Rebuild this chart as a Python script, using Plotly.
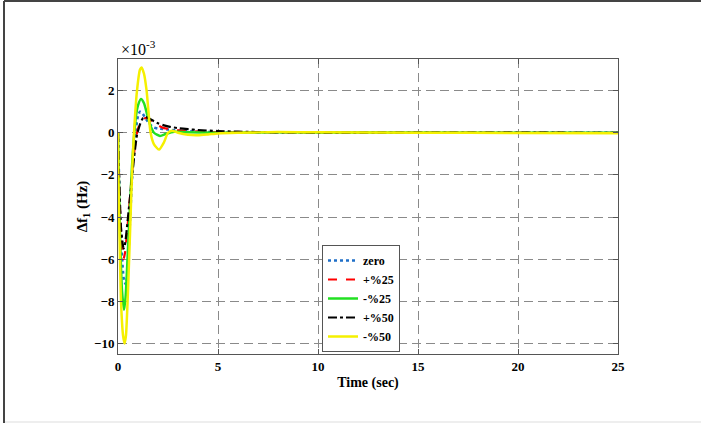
import plotly.graph_objects as go

# Values of delta f1 in units of 1e-3 Hz
t_zero = [0, 0.05, 0.15, 0.3, 0.4, 0.5, 0.6, 0.7, 0.8, 0.9, 1.0, 1.1, 1.2, 1.4, 1.6, 1.8, 2.0, 2.5, 3.0, 4.0, 5.0, 8.0, 12.0, 25.0]
v_zero = [0, -2.0, -5.0, -7.0, -7.2, -6.2, -4.2, -2.2, -0.8, 0.2, 0.8, 1.0, 0.95, 0.65, 0.4, 0.25, 0.2, 0.15, 0.1, 0.05, 0.02, 0.02, 0.01, 0.0]

t_p25 = [0, 0.05, 0.15, 0.27, 0.35, 0.5, 0.65, 0.8, 0.95, 1.1, 1.25, 1.38, 1.6, 1.8, 2.0, 2.3, 2.6, 3.0, 4.0, 5.0, 8.0, 12.0, 25.0]
v_p25 = [0, -2.0, -4.8, -6.0, -5.7, -4.2, -2.5, -1.0, 0.0, 0.45, 0.65, 0.7, 0.6, 0.45, 0.35, 0.22, 0.18, 0.12, 0.06, 0.03, 0.02, 0.01, 0.0]

t_m25 = [0, 0.05, 0.12, 0.2, 0.3, 0.38, 0.5, 0.6, 0.7, 0.8, 0.9, 1.0, 1.15, 1.3, 1.45, 1.6, 1.8, 2.1, 2.4, 2.8, 3.5, 5.0, 8.0, 12.0, 25.0]
v_m25 = [0, -2.5, -5.5, -7.5, -8.4, -7.8, -5.5, -3.5, -1.6, -0.2, 0.8, 1.3, 1.6, 1.4, 0.9, 0.4, 0.0, -0.15, -0.05, 0.05, 0.02, 0.0, 0.02, 0.01, 0.0]

t_p50 = [0, 0.05, 0.15, 0.28, 0.35, 0.5, 0.65, 0.8, 0.95, 1.1, 1.25, 1.38, 1.6, 1.8, 2.0, 2.3, 2.6, 3.0, 3.5, 4.0, 5.0, 6.0, 8.0, 10.0, 25.0]
v_p50 = [0, -2.0, -4.5, -5.5, -5.3, -4.0, -2.6, -1.2, -0.1, 0.4, 0.7, 0.75, 0.65, 0.55, 0.45, 0.35, 0.28, 0.22, 0.17, 0.13, 0.08, 0.05, 0.02, 0.01, 0.0]

t_m50 = [0, 0.02, 0.1, 0.15, 0.25, 0.33, 0.4, 0.5, 0.6, 0.7, 0.8, 0.95, 1.1, 1.18, 1.3, 1.43, 1.63, 1.8, 2.05, 2.3, 2.5, 2.7, 3.0, 3.5, 4.0, 4.5, 5.0, 6.0, 8.0, 10.0, 15.0, 20.0, 25.0]
v_m50 = [0, -2.0, -6.0, -8.0, -9.6, -10.0, -9.6, -7.5, -4.8, -2.0, 0.0, 2.0, 3.0, 3.1, 2.8, 2.0, 0.0, -0.55, -0.8, -0.45, 0.0, 0.1, 0.0, -0.1, -0.12, -0.08, -0.03, 0.0, 0.03, 0.02, 0.0, -0.01, -0.02]

x_ticks = [0, 5, 10, 15, 20, 25]
y_ticks = [-10, -8, -6, -4, -2, 0, 2]

series = [
    ("zero", t_zero, v_zero, "#1f6fc8", "dot", 2.5),
    ("+%25", t_p25, v_p25, "#ff0000", "dash", 2.2),
    ("-%25", t_m25, v_m25, "#22e022", "solid", 2.5),
    ("+%50", t_p50, v_p50, "#000000", "dashdot", 2.2),
    ("-%50", t_m50, v_m50, "#f5f000", "solid", 2.5),
]

fig = go.Figure()
for name, t, v, col, dash, w in series:
    fig.add_trace(go.Scatter(x=t, y=v, mode="lines", name=name,
                             line=dict(color=col, dash=dash, width=w, shape="spline", smoothing=0.6)))

L, R, T, B = 118, 83, 59, 70
W, H = 701, 424
pw, ph = W - L - R, H - T - B

def px(xp):
    return (xp - L) / pw

def py(yp):
    return (H - B - yp) / ph

axis_common = dict(showline=True, linecolor="#555555", linewidth=1, mirror="ticks",
                   ticks="inside", ticklen=5, tickcolor="#555555",
                   showgrid=True, gridcolor="#8a8a8a", gridwidth=1, griddash="9px,5px",
                   zeroline=False,
                   tickfont=dict(family="Liberation Serif", size=13, color="#000000", weight="bold"))

fig.update_xaxes(range=[0, 25], tickvals=x_ticks,
                 title=dict(text="Time (sec)", standoff=4,
                            font=dict(family="Liberation Serif", size=14, color="#000", weight="bold")),
                 **axis_common)
fig.update_yaxes(range=[-10.5, 3.5], tickvals=y_ticks,
                 title=dict(text="Δf<sub>1</sub> (Hz)", standoff=2,
                            font=dict(family="Liberation Serif", size=15, color="#000", weight="bold")),
                 **axis_common)

fig.add_annotation(text="×10<sup>-3</sup>", xref="paper", yref="paper", x=px(119), y=1,
                   xanchor="left", yanchor="bottom", yshift=-1, showarrow=False,
                   font=dict(family="Liberation Serif", size=16, color="#000"))

fig.update_layout(
    width=W, height=H,
    margin=dict(l=L, r=R, t=T, b=B),
    paper_bgcolor="white", plot_bgcolor="white",
    font=dict(family="Liberation Serif", color="#000"),
    legend=dict(x=px(322), y=py(352), xanchor="left", yanchor="bottom",
                bgcolor="white", bordercolor="#555555", borderwidth=1,
                font=dict(family="Liberation Serif", size=12, color="#000", weight="bold"),
                tracegroupgap=0, itemwidth=30),
    showlegend=True,
    shapes=[
        dict(type="line", xref="paper", yref="paper", x0=px(4), x1=px(4), y0=py(1), y1=py(423),
             line=dict(color="#444444", width=2)),
        dict(type="line", xref="paper", yref="paper", x0=px(4), x1=px(701), y0=py(1), y1=py(1),
             line=dict(color="#444444", width=2)),
        dict(type="line", xref="paper", yref="paper", x0=px(5), x1=px(701), y0=py(422), y1=py(422),
             line=dict(color="#dddddd", width=1)),
    ],
)

fig.write_html("out.html")
